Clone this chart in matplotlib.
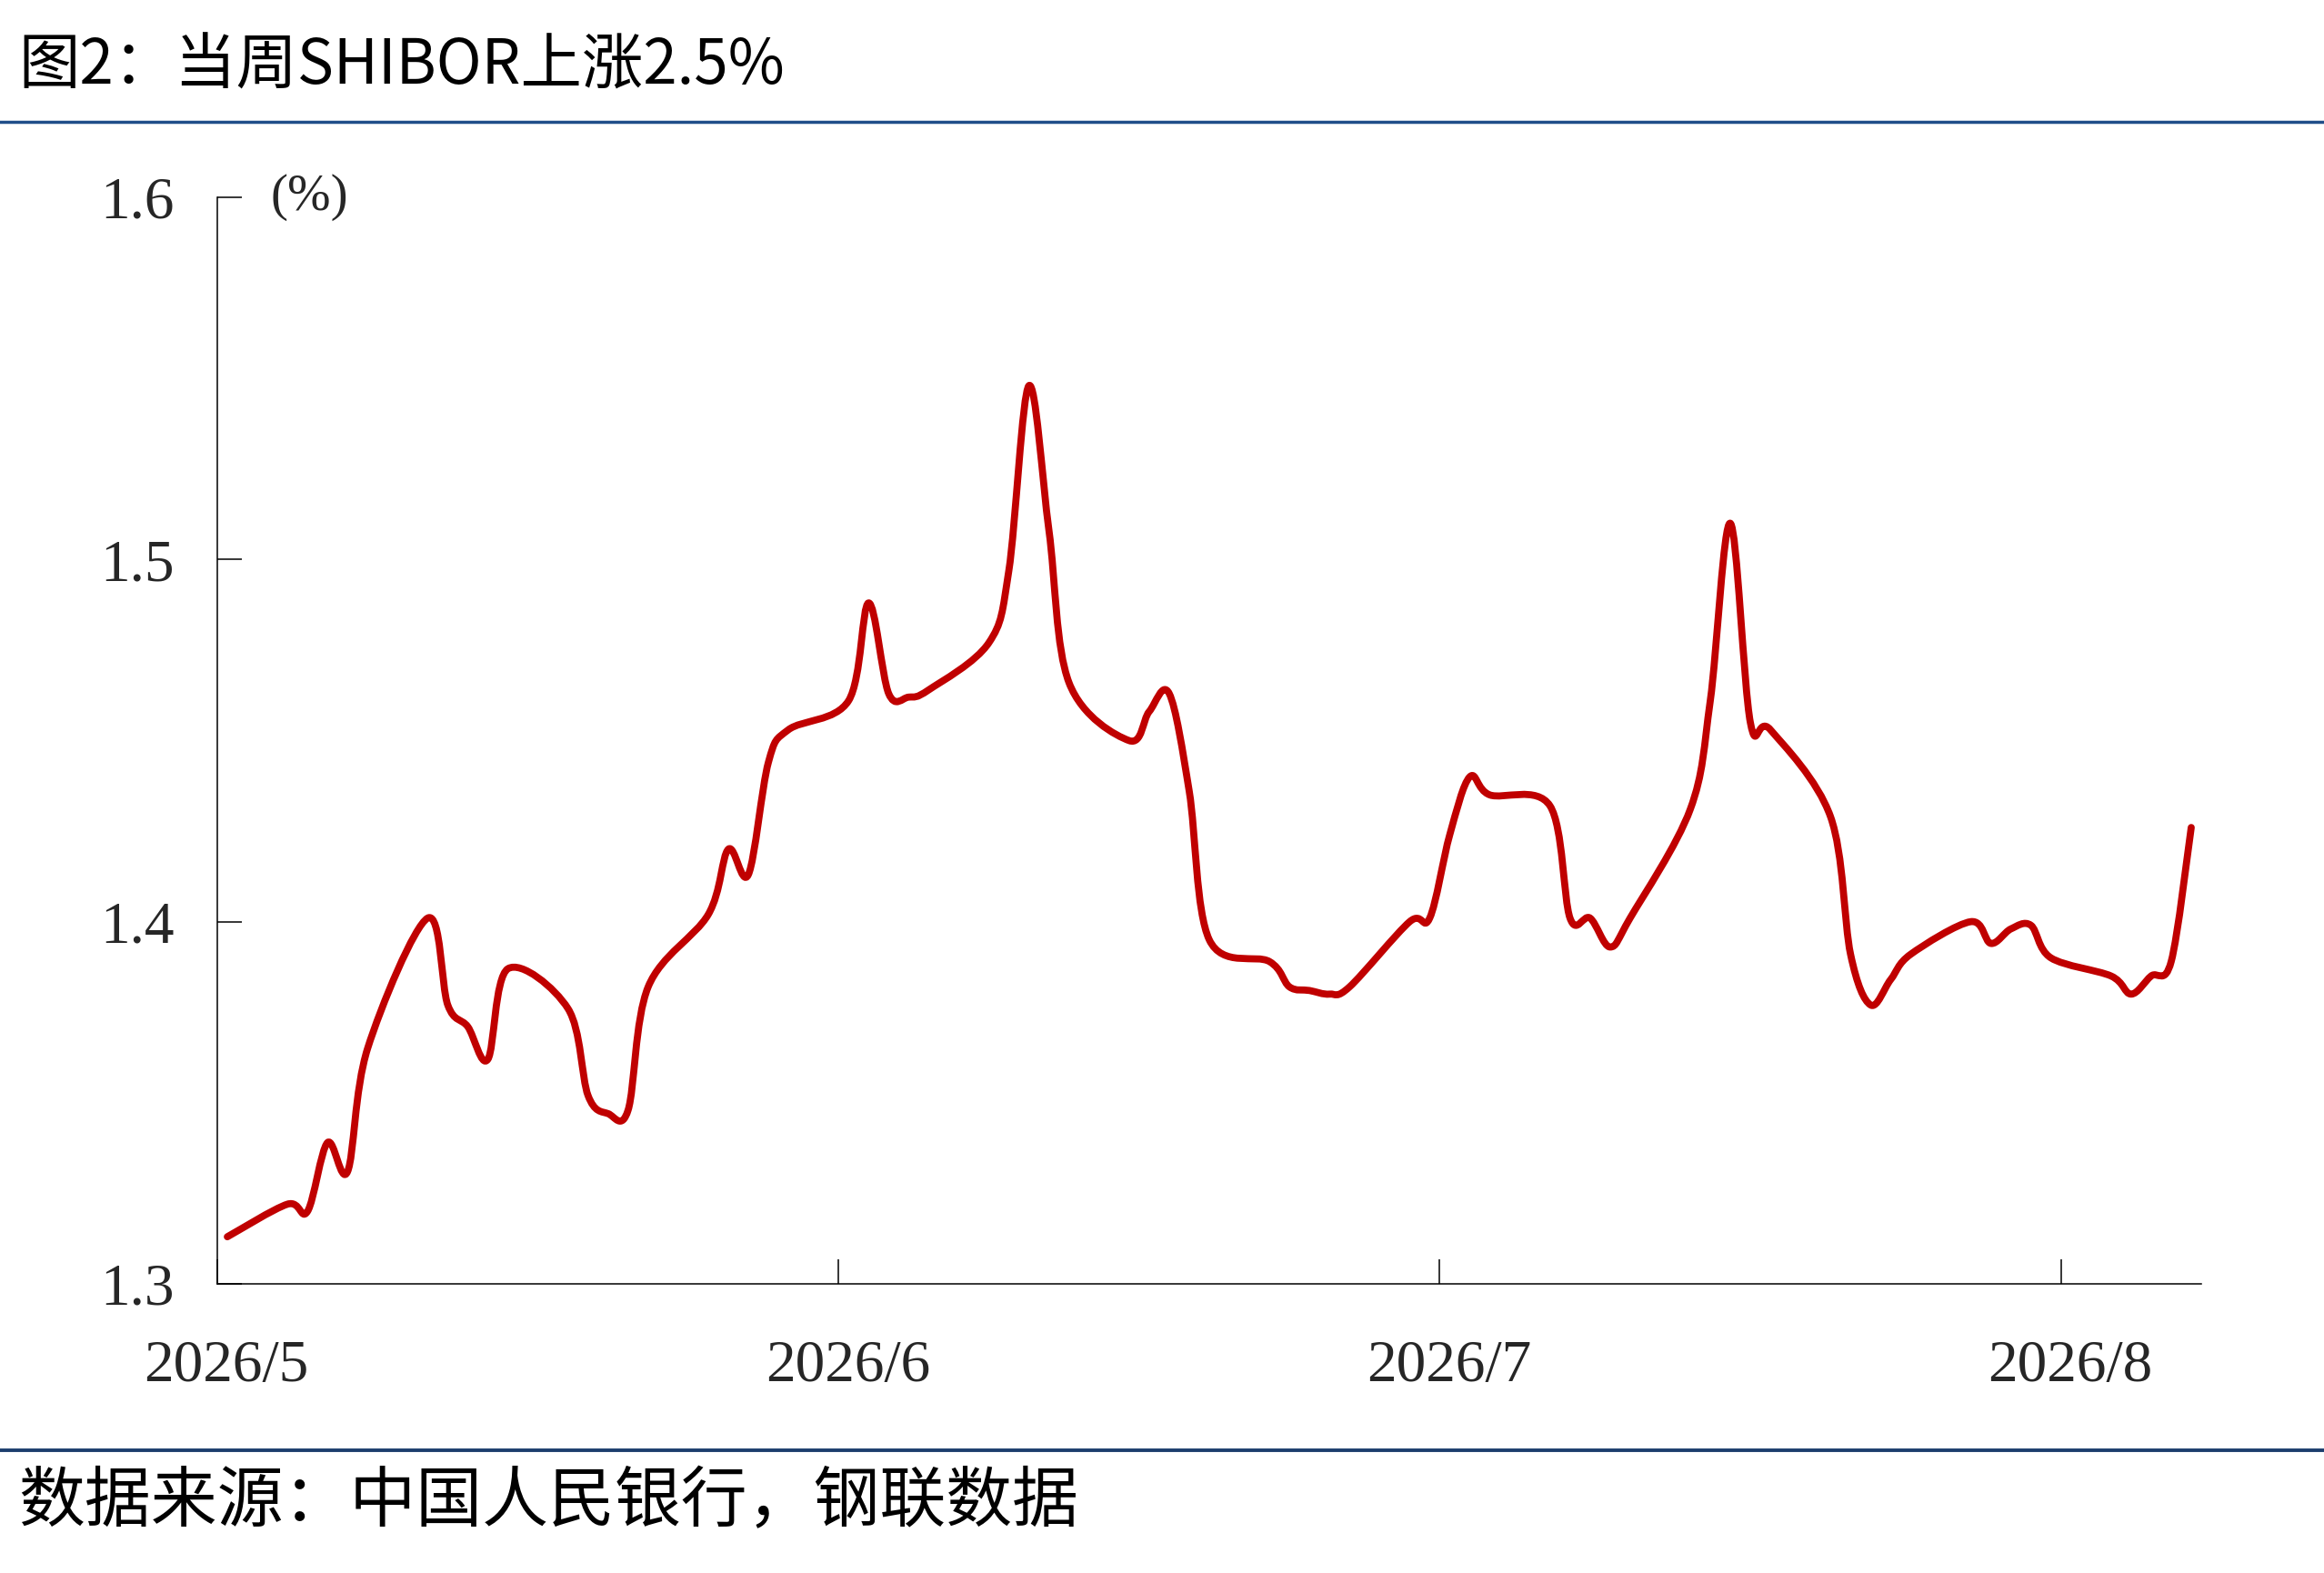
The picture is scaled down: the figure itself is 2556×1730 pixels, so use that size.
import datetime as dt

import matplotlib
matplotlib.use("Agg")
import matplotlib.pyplot as plt
import matplotlib.dates as mdates
import matplotlib.transforms as mtransforms
from matplotlib.lines import Line2D
from matplotlib.patches import PathPatch
from matplotlib.path import Path

plt.rcParams['font.family'] = ['Noto Sans CJK SC', 'DejaVu Sans']

# 工作日与 SHIBOR (%)
dates = [
    "2026-05-01", "2026-05-04", "2026-05-05", "2026-05-06", "2026-05-07", "2026-05-08",
    "2026-05-11", "2026-05-12", "2026-05-13", "2026-05-14", "2026-05-15",
    "2026-05-18", "2026-05-19", "2026-05-20", "2026-05-21", "2026-05-22",
    "2026-05-25", "2026-05-26", "2026-05-27", "2026-05-28", "2026-05-29",
    "2026-06-01", "2026-06-02", "2026-06-03", "2026-06-04", "2026-06-05",
    "2026-06-08", "2026-06-09", "2026-06-10", "2026-06-11", "2026-06-12",
    "2026-06-15", "2026-06-16", "2026-06-17", "2026-06-18", "2026-06-19",
    "2026-06-22", "2026-06-23", "2026-06-24", "2026-06-25", "2026-06-26",
    "2026-06-29", "2026-06-30", "2026-07-01", "2026-07-02", "2026-07-03",
    "2026-07-06", "2026-07-07", "2026-07-08", "2026-07-09", "2026-07-10",
    "2026-07-13", "2026-07-14", "2026-07-15", "2026-07-16", "2026-07-17",
    "2026-07-20", "2026-07-21", "2026-07-22", "2026-07-23", "2026-07-24",
    "2026-07-27", "2026-07-28", "2026-07-29", "2026-07-30", "2026-07-31",
    "2026-08-03", "2026-08-04", "2026-08-05", "2026-08-06", "2026-08-07",
]
shibor = [
    1.313, 1.322, 1.320, 1.339, 1.331, 1.365,
    1.401, 1.377, 1.371, 1.362, 1.387,
    1.376, 1.352, 1.347, 1.348, 1.382,
    1.402, 1.420, 1.413, 1.444, 1.453,
    1.461, 1.488, 1.463, 1.462, 1.464,
    1.477, 1.497, 1.548, 1.508, 1.466,
    1.450, 1.458, 1.463, 1.436, 1.395,
    1.389, 1.382, 1.381, 1.380, 1.382,
    1.400, 1.401, 1.424, 1.440, 1.435,
    1.432, 1.401, 1.401, 1.393, 1.401,
    1.431, 1.461, 1.510, 1.455, 1.453,
    1.429, 1.391, 1.377, 1.384, 1.391,
    1.400, 1.394, 1.398, 1.399, 1.390,
    1.385, 1.380, 1.385, 1.389, 1.426,
]

month_ticks = ["2026-05-01", "2026-06-01", "2026-07-01", "2026-08-01"]
month_labels = ["2026/5", "2026/6", "2026/7", "2026/8"]
y_ticks = [1.3, 1.4, 1.5, 1.6]

title = "图2：当周SHIBOR上涨2.5%"
source = "数据来源：中国人民银行，钢联数据"


def to_num(s):
    return mdates.date2num(dt.datetime.strptime(s, "%Y-%m-%d"))


def smooth_path(x, y):
    # 类似 Excel 平滑线的贝塞尔路径
    verts = [(x[0], y[0])]
    codes = [Path.MOVETO]
    n = len(x)
    for i in range(n - 1):
        xa, ya = (x[i - 1], y[i - 1]) if i > 0 else (x[i], y[i])
        xb, yb = (x[i + 2], y[i + 2]) if i + 2 < n else (x[i + 1], y[i + 1])
        c1 = (x[i] + (x[i + 1] - xa) / 6, y[i] + (y[i + 1] - ya) / 6)
        c2 = (x[i + 1] - (xb - x[i]) / 6, y[i + 1] - (yb - y[i]) / 6)
        verts += [c1, c2, (x[i + 1], y[i + 1])]
        codes += [Path.CURVE4] * 3
    return Path(verts, codes)


W, H = 2556, 1730
fig = plt.figure(figsize=(W / 100, H / 100), dpi=100)
ax = fig.add_axes([239 / W, 1 - 1412 / H, (2421 - 239) / W, (1412 - 217) / H])

# 点位于每日中间（日期轴）
xs = [to_num(d) + 0.5 for d in dates]
patch = PathPatch(smooth_path(xs, shibor), facecolor="none", edgecolor="#C00000",
                  lw=5.6, capstyle="round", joinstyle="round")
ax.add_patch(patch)

ax.set_xlim(to_num("2026-05-01"), to_num("2026-08-08"))
ax.set_ylim(1.3, 1.6)

serif = "Liberation Serif"
ax.set_xticks([to_num(d) for d in month_ticks])
ax.set_xticklabels(month_labels, fontfamily=serif, fontsize=47, color="#262626")
ax.set_yticks(y_ticks)
ax.set_yticklabels([f"{v:.1f}" for v in y_ticks], fontfamily=serif, fontsize=47, color="#262626")

ax.tick_params(axis="both", direction="in", length=19.5, width=1.1, color="black")
ax.tick_params(axis="x", pad=44)
ax.tick_params(axis="y", pad=34)

for s in ["top", "right"]:
    ax.spines[s].set_visible(False)
for s in ["left", "bottom"]:
    ax.spines[s].set_linewidth(1.1)
    ax.spines[s].set_color("black")

offset = mtransforms.ScaledTranslation(0.10, 0, fig.dpi_scale_trans)
for lab in ax.get_xticklabels():
    lab.set_transform(lab.get_transform() + offset)

ax.text(0.027, 1.6, "(%)", transform=mtransforms.blended_transform_factory(ax.transAxes, ax.transData),
        ha="left", va="center", fontfamily=serif, fontsize=41, color="#262626")

fig.text(20 / W, 1 - 73 / H, title, ha="left", va="center", fontsize=48.5, color="black")
fig.add_artist(Line2D([0, 1], [1 - 134 / H] * 2, transform=fig.transFigure, color="#1F4E89", lw=2.5))
fig.add_artist(Line2D([0, 1], [1 - 1595 / H] * 2, transform=fig.transFigure, color="#1C3E6E", lw=2.8))
fig.text(20 / W, 1 - 1652 / H, source, ha="left", va="center", fontsize=52.5, color="black")

fig.savefig("out.png", dpi=100, facecolor="white")
